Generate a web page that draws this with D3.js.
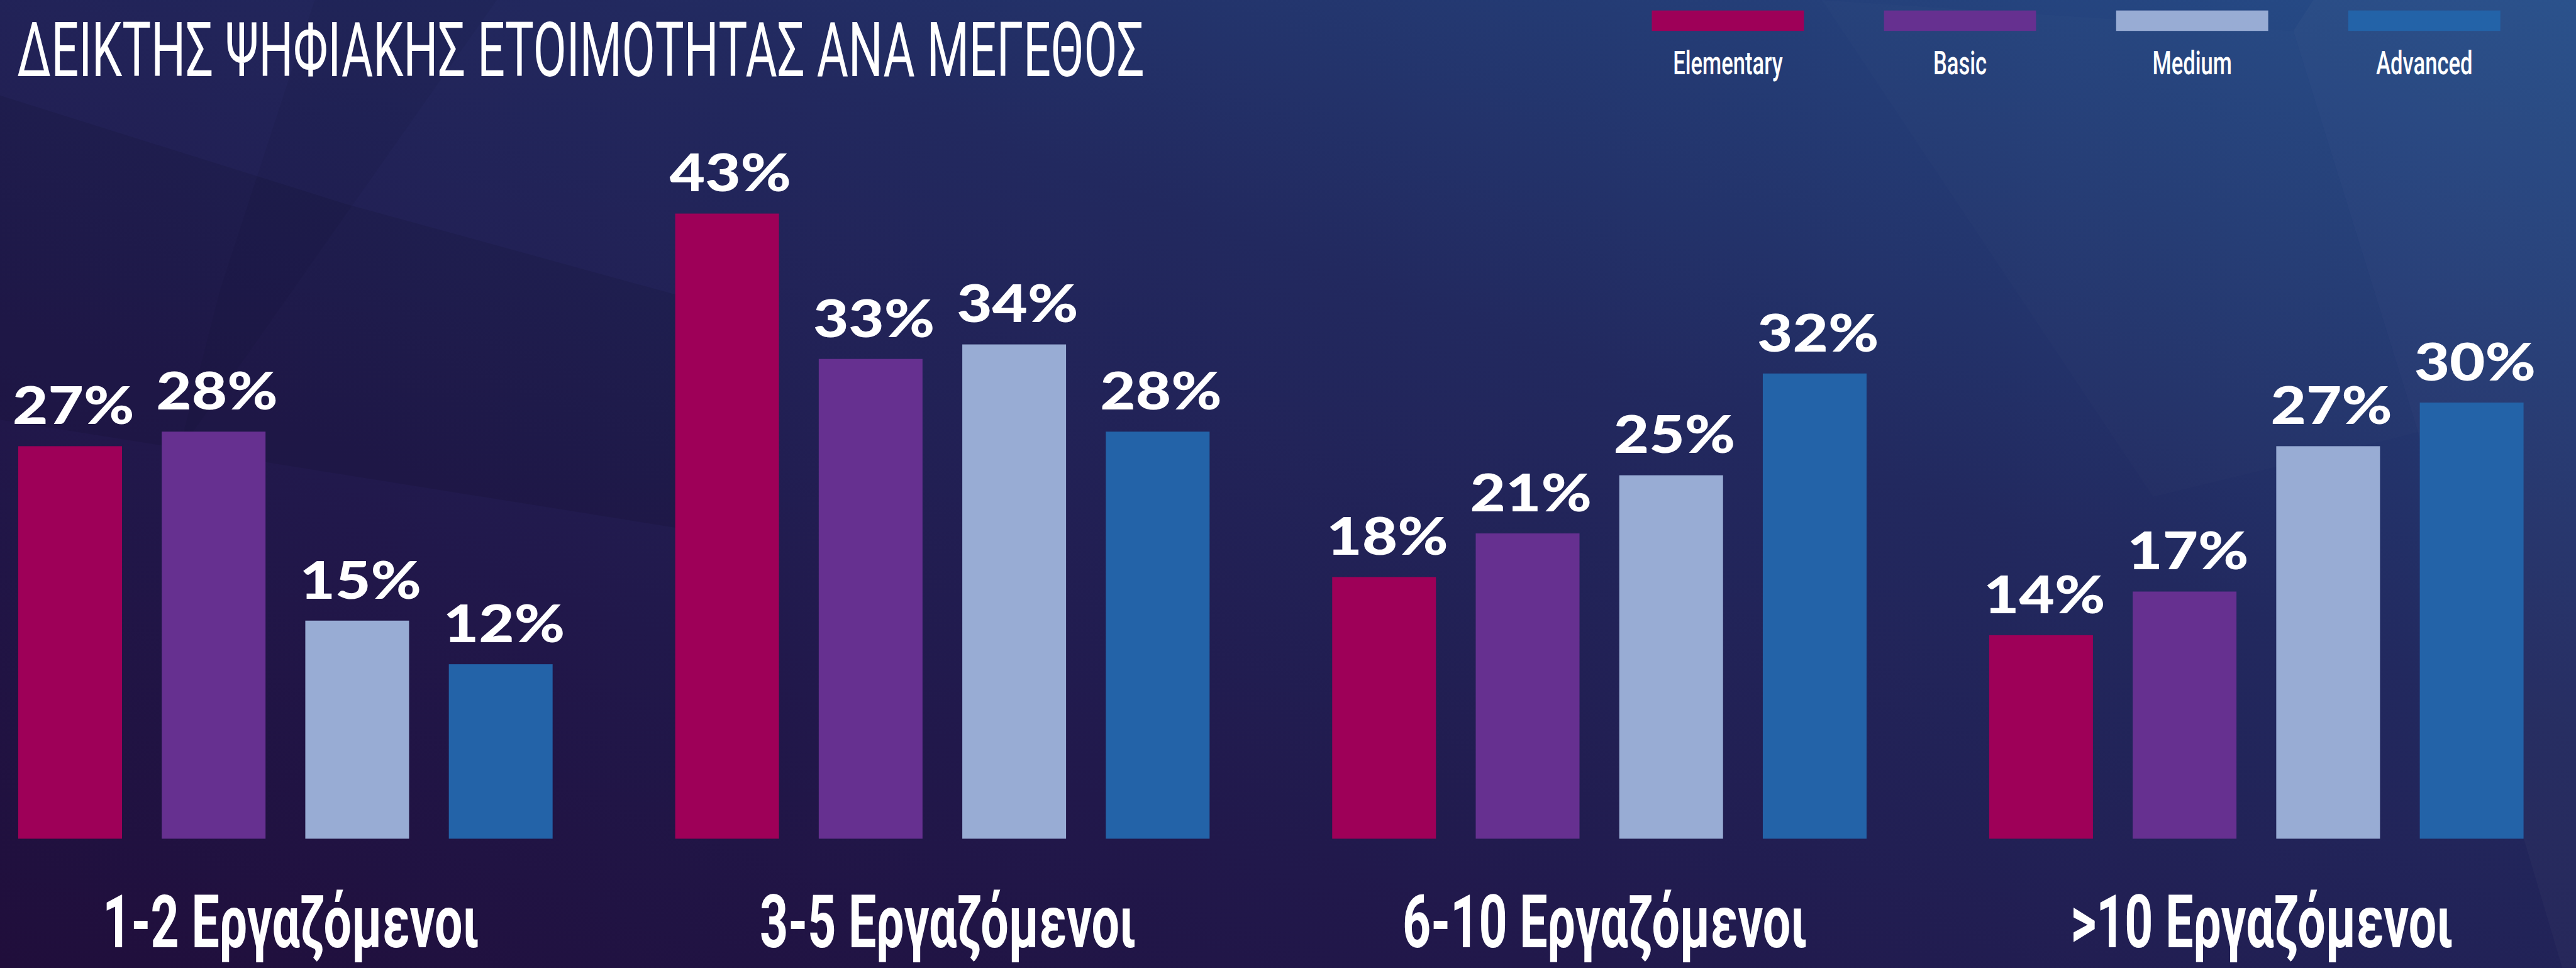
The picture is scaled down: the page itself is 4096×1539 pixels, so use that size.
<!DOCTYPE html>
<html>
<head>
<meta charset="utf-8">
<script src="https://cdn.jsdelivr.net/npm/d3@7"></script>
<style>
  html, body { margin: 0; padding: 0; background: #221a4c; }
  svg { display: block; }
</style>
</head>
<body>
<svg id="canvas"></svg>
<script>
// data
let title = 'ΔΕΙΚΤΗΣ ΨΗΦΙΑΚΗΣ ΕΤΟΙΜΟΤΗΤΑΣ ΑΝΑ ΜΕΓΕΘΟΣ'
let groups = ['1-2 Εργαζόμενοι', '3-5 Εργαζόμενοι', '6-10 Εργαζόμενοι', '>10 Εργαζόμενοι']
let levels = ['Elementary', 'Basic', 'Medium', 'Advanced']
let elementary = [27, 43, 18, 14]
let basic = [28, 33, 21, 17]
let medium = [15, 34, 25, 27]
let advanced = [12, 28, 32, 30]

let colors = ['#9e0058', '#663090', '#98acd4', '#2363a8']

let W = 4096, H = 1539
let S = W / 4666

let svg = d3.select('#canvas').attr('width', W).attr('height', H)

// background
let defs = svg.append('defs')
let grad = defs.append('linearGradient').attr('id', 'bg')
  .attr('x1', '0%').attr('y1', '100%').attr('x2', '100%').attr('y2', '0%')
grad.append('stop').attr('offset', '0%').attr('stop-color', '#200e3b')
grad.append('stop').attr('offset', '30%').attr('stop-color', '#21184b')
grad.append('stop').attr('offset', '62%').attr('stop-color', '#22295f')
grad.append('stop').attr('offset', '100%').attr('stop-color', '#264e8a')
svg.append('rect').attr('width', W).attr('height', H).attr('fill', 'url(#bg)')

let facets = [
  { pts: [[0, 173], [625, 369], [1400, 582], [1400, 984], [0, 760]], fill: '#000', op: 0.08 },
  { pts: [[400, 520], [570, 0], [900, 0], [323, 820]], fill: '#000', op: 0.04 },
  { pts: [[4190, 0], [4666, 0], [4666, 1753], [4641, 1753], [4572, 1521], [4380, 783], [4154, 56]], fill: '#fff', op: 0.025 },
  { pts: [[3300, 0], [4154, 56], [4380, 783], [3900, 900]], fill: '#fff', op: 0.012 }
]
svg.append('g').selectAll('polygon')
  .data(facets)
  .enter()
  .append('polygon')
  .attr('points', d => d.pts.map(p => (p[0] * S) + ',' + (p[1] * S)).join(' '))
  .attr('fill', d => d.fill)
  .attr('fill-opacity', d => d.op)

// scales
let x0 = d3.scaleBand()
  .domain(groups)
  .range([33 * S, 4571 * S])
  .paddingInner(0.1866)
  .paddingOuter(0)

let x1 = d3.scaleBand()
  .domain(levels)
  .range([0, x0.bandwidth()])
  .paddingInner(0.277)
  .paddingOuter(0)

let y = d3.scaleLinear()
  .domain([0, 50])
  .range([1519 * S, 202.5 * S])

let color = d3.scaleOrdinal().domain(levels).range(colors)

let table = groups.map((g, i) => ({
  group: g,
  values: [
    { level: 'Elementary', value: elementary[i] },
    { level: 'Basic', value: basic[i] },
    { level: 'Medium', value: medium[i] },
    { level: 'Advanced', value: advanced[i] }
  ]
}))

// bars
let groupG = svg.append('g').selectAll('g')
  .data(table)
  .enter()
  .append('g')
  .attr('transform', d => 'translate(' + x0(d.group) + ',0)')

groupG.selectAll('rect')
  .data(d => d.values)
  .enter()
  .append('rect')
  .attr('x', d => x1(d.level))
  .attr('y', d => y(d.value))
  .attr('width', x1.bandwidth())
  .attr('height', d => y(0) - y(d.value))
  .attr('fill', d => color(d.level))

// value labels
groupG.selectAll('g.val')
  .data(d => d.values)
  .enter()
  .append('g')
  .attr('class', 'val')
  .attr('transform', d => 'translate(' + (x1(d.level) + x1.bandwidth() / 2 + 6 * S) + ',' + (y(d.value) - 40 * S) + ') scale(1.18,1)')
  .append('text')
  .attr('text-anchor', 'middle')
  .attr('fill', '#fff')
  .style('font-family', 'Lato, sans-serif')
  .style('font-weight', 900)
  .style('font-size', (94 * S) + 'px')
  .text(d => d.value + '%')

// group labels
svg.append('g').selectAll('g')
  .data(groups)
  .enter()
  .append('g')
  .attr('transform', d => 'translate(' + (x0(d) + x0.bandwidth() / 2 + 10 * S) + ',' + (1716 * S) + ') scale(0.67,1)')
  .append('text')
  .attr('text-anchor', 'middle')
  .attr('fill', '#fff')
  .style('font-family', 'Roboto, sans-serif')
  .style('font-weight', 700)
  .style('font-size', (134 * S) + 'px')
  .text(d => d)

// title
svg.append('g')
  .attr('transform', 'translate(' + (31 * S) + ',' + (138 * S) + ') scale(0.635,1)')
  .append('text')
  .attr('fill', '#fff')
  .style('font-family', 'Roboto, sans-serif')
  .style('font-weight', 400)
  .style('font-size', (138 * S) + 'px')
  .text(title)

// legend
let lx = d3.scaleBand()
  .domain(levels)
  .range([2992 * S, 4529 * S])
  .paddingInner(0.345)
  .paddingOuter(0)

let legend = svg.append('g').selectAll('g')
  .data(levels)
  .enter()
  .append('g')

legend.append('rect')
  .attr('x', d => lx(d))
  .attr('y', 19 * S)
  .attr('width', lx.bandwidth())
  .attr('height', 37 * S)
  .attr('fill', d => color(d))

legend.append('g')
  .attr('transform', d => 'translate(' + (lx(d) + lx.bandwidth() / 2) + ',' + (134 * S) + ') scale(0.68,1)')
  .append('text')
  .attr('text-anchor', 'middle')
  .attr('fill', '#fff')
  .style('font-family', 'Roboto, sans-serif')
  .style('font-weight', 500)
  .style('font-size', (58 * S) + 'px')
  .text(d => d)
</script>
</body>
</html>
